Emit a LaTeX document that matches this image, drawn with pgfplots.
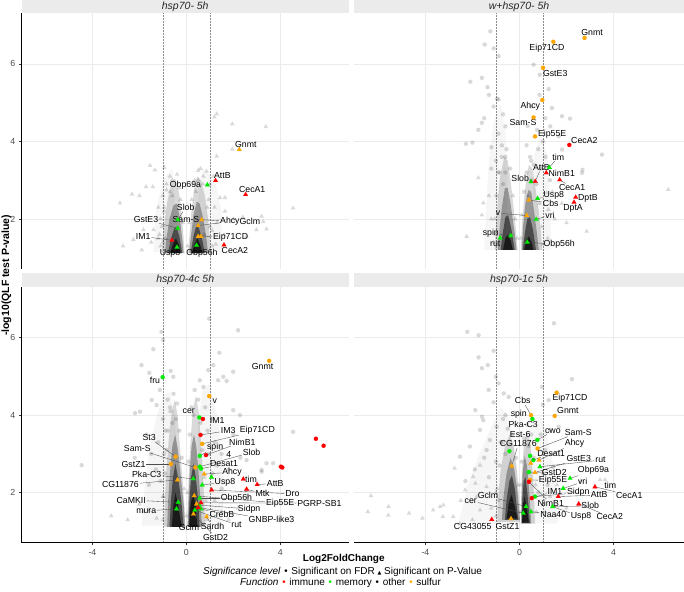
\documentclass[border=0pt]{standalone}
\usepackage{pgfplots}
\pgfplotsset{compat=1.18}
\usepackage{fontspec}
\setmainfont{Liberation Sans}
\newfontfamily\symf{DejaVu Sans}
\definecolor{cimm}{RGB}{255,0,0}
\definecolor{cmem}{RGB}{0,235,0}
\definecolor{csul}{RGB}{255,165,0}
\definecolor{stripc}{RGB}{235,235,235}
\tikzset{
  lab/.style={font=\fontsize{8.75}{9}\selectfont, inner sep=0.8pt, text=black},
  seg/.style={draw=black!70, line width=0.35pt, shorten >=1.2pt},
  axl/.style={draw=black, line width=0.7pt},
}
\pgfplotsset{
  panel/.style={scale only axis, height=255.5pt, ymin=0.71, ymax=7.30,
    xtick={-4,0,4}, ytick={2,4,6}, grid=major,
    major grid style={draw=black!8, line width=0.6pt},
    axis line style={draw=none},
    xtick pos=bottom, ytick pos=left,
    tick align=outside, major tick length=2.75pt,
    tick style={draw=black!80, line width=0.6pt},
    ticklabel style={font=\fontsize{8.8}{10}\selectfont, text=black!70},
    /pgf/number format/assume math mode=true,
    clip=false},
  notx/.style={xticklabels={}, xtick style={draw=none}},
  noty/.style={yticklabels={}, ytick style={draw=none}},
  cf/.style={only marks, mark=*, mark size=2.1pt, mark options={draw=#1, fill=#1, line width=0.1pt}, forget plot},
  ct/.style={only marks, mark=triangle*, mark size=2.7pt, mark options={draw=#1, fill=#1, line width=0.1pt}, forget plot},
  gf/.style={only marks, mark=*, mark size=2.2pt, mark options={draw=black, draw opacity=0, line width=0pt, fill=black, fill opacity=0.15}, forget plot},
  gt/.style={only marks, mark=triangle*, mark size=2.7pt, mark options={draw=black, draw opacity=0, line width=0pt, fill=black, fill opacity=0.15}, forget plot},
  lobe/.style={draw=none, fill=black, fill opacity=#1, forget plot, mark=none},
  vl/.style={draw=black!45, line width=0.5pt, densely dotted, forget plot, mark=none},
}
\newcommand{\lb}[5]{\node[lab] (L) at (axis cs:#1,#2) {#5}; \draw[seg] (L) -- (axis cs:#3,#4);}
\newcommand{\lbn}[3]{\node[lab] at (axis cs:#1,#2) {#3};}
\newcommand{\bul}[1]{{\color{#1}\symf\fontsize{9}{9}\selectfont •}}
\begin{document}
\begin{tikzpicture}
\useasboundingbox (0,0) rectangle (684pt,591pt);

% ================= Panel 1: hsp70- 5h =================
\begin{axis}[panel, notx, at={(21.5pt,322pt)}, anchor=south west, width=327.5pt, xmin=-7.02, xmax=6.92]
\addplot[vl] coordinates {(-1,0.71) (-1,7.30)};
\addplot[vl] coordinates {(1,0.71) (1,7.30)};
\addplot[ct=cimm] coordinates {(1.24,2.99) (2.52,2.63) (-0.62,1.45) (1.60,1.33)};
\addplot[ct=cmem] coordinates {(0.89,2.88) (-0.37,1.98) (-0.37,1.76) (-0.40,1.27) (0.43,1.32)};
\addplot[ct=csul] coordinates {(2.25,3.79) (0.65,1.98) (0.50,1.83) (0.50,1.55) (0.62,1.55)};
\addplot[lobe=0.035] coordinates {(-1.4,1.15) (-1.3,2.2) (-1.0,3.0) (-0.6,3.3) (-0.5,2.5) (-0.6,1.15)};
\addplot[lobe=0.035] coordinates {(0.6,1.15) (0.5,2.5) (0.7,3.3) (1.2,3.0) (1.5,2.2) (1.5,1.15)};
\addplot[gt] coordinates {(1.29,4.71) (1.19,4.63) (1.95,4.45) (3.38,4.38) (1.95,3.80) (1.29,3.62) (4.54,2.28) (-2.83,2.41) (-2.32,2.64) (-2.00,2.60) (-1.55,3.38) (-1.34,3.26) (-0.94,3.33) (-1.72,2.83) (-1.43,2.83) (3.20,2.07) (3.41,1.74) (3.27,1.93) (2.98,1.72) (2.55,1.55) (-2.26,1.47) (-1.83,1.72) (-1.40,1.72) (0.86,3.23) (1.15,3.10) (0.72,3.10) (1.00,2.90) (1.43,2.55) (1.64,2.55) (1.64,2.20) (2.00,2.00) (-1.20,2.30) (-1.10,2.00) (-1.50,1.40) (-1.20,1.50) (1.30,1.90) (1.60,1.60) (1.25,1.35) (-1.00,2.60) (-0.85,2.90) (0.60,3.30) (0.50,3.00) (-0.60,3.00) (-0.70,2.70) (1.20,2.30) (2.40,2.05) (-2.70,1.30) (-1.90,1.20) (-0.95,2.20) (0.95,2.50) (1.10,1.70) (-1.00,1.40) (0.30,2.90) (-0.30,2.80)};
\addplot[gt] coordinates {(-1.10,1.30) (-1.05,1.80) (-0.95,2.30) (-0.85,2.75) (-0.70,3.10) (-0.40,3.15) (-0.25,2.50) (-0.15,1.90) (-1.15,1.60) (-0.90,1.50) (-0.60,2.60) (0.05,1.30) (0.12,1.90) (0.22,2.50) (0.35,3.00) (0.50,3.25) (0.70,2.90) (0.88,2.30) (1.00,1.80) (1.10,1.30) (0.75,1.60) (0.40,2.70)};
\addplot[lobe=0.15] coordinates {(-1.05,1.12) (-1.0,1.5) (-0.92,2.0) (-0.8,2.5) (-0.62,2.95) (-0.48,3.05) (-0.32,2.7) (-0.2,2.1) (-0.12,1.5) (-0.08,1.12)};
\addplot[lobe=0.30] coordinates {(-0.92,1.12) (-0.85,1.5) (-0.72,2.0) (-0.55,2.35) (-0.42,2.4) (-0.3,2.1) (-0.18,1.5) (-0.12,1.12)};
\addplot[lobe=0.50] coordinates {(-0.78,1.12) (-0.68,1.45) (-0.52,1.75) (-0.42,1.8) (-0.3,1.55) (-0.18,1.12)};
\addplot[lobe=0.65] coordinates {(-0.68,1.12) (-0.58,1.35) (-0.45,1.5) (-0.33,1.35) (-0.24,1.12)};
\addplot[lobe=0.15] coordinates {(0.08,1.12) (0.12,1.5) (0.2,2.1) (0.32,2.75) (0.46,3.1) (0.62,3.0) (0.8,2.55) (0.92,2.0) (1.0,1.5) (1.05,1.12)};
\addplot[lobe=0.30] coordinates {(0.12,1.12) (0.18,1.5) (0.3,2.1) (0.44,2.45) (0.56,2.4) (0.72,2.0) (0.85,1.5) (0.92,1.12)};
\addplot[lobe=0.50] coordinates {(0.18,1.12) (0.3,1.55) (0.43,1.85) (0.54,1.75) (0.68,1.45) (0.78,1.12)};
\addplot[lobe=0.65] coordinates {(0.24,1.12) (0.34,1.35) (0.46,1.5) (0.58,1.35) (0.68,1.12)};
\draw[axl] (rel axis cs:0,0) -- (rel axis cs:0,1);
\lbn{2.53}{3.93}{Gnmt}
\lbn{1.53}{3.12}{AttB}
\lbn{-0.04}{2.87}{Obp69a}
\lbn{2.80}{2.75}{CecA1}
\lb{-0.03}{2.30}{-0.37}{1.98}{Slob}
\lb{-1.72}{1.98}{-0.37}{1.76}{GstE3}
\lbn{-0.02}{1.98}{Sam-S}
\lb{1.85}{1.94}{0.65}{1.98}{Ahcy}
\lbn{2.70}{1.94}{Gclm}
\draw[seg] (axis cs:1.42,1.90) -- (axis cs:0.50,1.83);
\lb{1.88}{1.53}{0.62}{1.55}{Eip71CD}
\lb{-1.84}{1.55}{-0.62}{1.45}{IM1}
\lbn{-0.70}{1.12}{Usp8}
\lbn{0.66}{1.12}{Obp56h}
\lbn{2.06}{1.18}{CecA2}
\end{axis}

% ================= Panel 2: w+hsp70- 5h =================
\begin{axis}[panel, notx, noty, at={(354pt,322pt)}, anchor=south west, width=330pt, xmin=-7.04, xmax=7.00]
\addplot[vl] coordinates {(-1,0.71) (-1,7.30)};
\addplot[vl] coordinates {(1,0.71) (1,7.30)};
\addplot[cf=csul] coordinates {(2.77,6.67) (1.44,6.57) (1.00,5.90) (0.97,5.07) (0.60,4.62) (0.66,4.13)};
\addplot[cf=cimm] coordinates {(2.12,3.91)};
\addplot[ct=cmem] coordinates {(1.27,3.33) (0.49,2.96) (0.77,2.53) (0.71,1.99) (-0.37,1.57) (-0.82,1.51) (0.33,1.40)};
\addplot[ct=cimm] coordinates {(0.67,2.97) (1.14,3.19) (1.71,3.01) (2.39,2.56) (2.32,2.43)};
\addplot[ct=csul] coordinates {(0.40,2.49) (0.31,2.09)};
\addplot[lobe=0.035] coordinates {(-1.5,1.2) (-1.4,2.5) (-1.3,3.5) (-1.1,4.5) (-0.8,5.0) (-0.6,4.2) (-0.5,3.0) (-0.6,1.2)};
\addplot[lobe=0.035] coordinates {(0.6,1.2) (0.55,2.5) (0.6,3.6) (0.9,4.2) (1.2,3.6) (1.3,2.5) (1.35,1.2)};
\addplot[gf] coordinates {(-1.24,6.84) (-1.48,6.50) (-1.10,6.40) (-0.89,6.20) (-1.60,5.64) (-2.09,5.54) (-1.36,5.40) (-1.30,5.20) (-0.95,5.10) (-0.89,5.08) (-1.10,4.90) (-0.70,4.70) (-1.50,4.60) (-1.60,4.48) (-0.60,4.39) (-1.75,4.30) (-2.28,3.94) (-2.00,3.97) (-1.20,3.85) (-0.90,4.20) (0.60,5.98) (0.86,5.72) (1.24,5.35) (1.38,4.86) (1.81,4.65) (2.15,4.59) (1.31,4.39) (1.67,4.13) (1.81,3.79) (3.51,3.66) (2.66,3.19) (2.68,3.27) (-0.75,3.90) (-0.60,3.60) (0.35,4.40) (0.50,4.90) (0.30,3.90) (0.80,3.80) (-1.00,3.50) (1.10,3.60) (0.75,4.30) (1.00,4.00) (0.50,3.50) (0.90,3.30) (-0.85,3.20) (-1.20,3.30) (1.30,3.00) (0.85,5.20) (1.10,4.60)};
\addplot[gf] coordinates {(-0.90,3.20) (-0.75,3.60) (-0.55,3.80) (-0.40,3.30) (-0.70,2.90) (-0.60,3.20) (0.20,2.70) (0.30,3.20) (0.45,3.60) (0.60,3.40) (0.72,2.90) (0.50,3.00) (-0.98,2.60)};
\addplot[gt] coordinates {(-1.75,3.06) (-1.54,2.41) (-2.25,1.55) (2.86,1.68) (6.33,2.76) (1.16,2.67) (1.23,2.24) (-1.20,2.00) (-1.00,1.60) (1.50,2.00) (1.40,2.70) (-1.60,2.10) (1.20,1.50) (-1.30,2.60) (1.80,2.40) (2.00,1.90)};
\addplot[gt] coordinates {(-1.10,1.40) (-1.05,2.00) (-0.28,2.60) (-0.18,2.00) (-0.10,1.50) (0.05,1.50) (0.10,2.10) (0.85,2.40) (0.95,1.80) (1.00,1.35) (0.35,2.60)};
\addplot[lobe=0.15] coordinates {(-1.05,1.2) (-1.0,1.8) (-0.92,2.5) (-0.82,3.1) (-0.65,3.6) (-0.5,3.5) (-0.38,3.0) (-0.25,2.3) (-0.15,1.7) (-0.08,1.2)};
\addplot[lobe=0.30] coordinates {(-0.92,1.2) (-0.85,1.7) (-0.75,2.3) (-0.62,2.8) (-0.5,2.8) (-0.38,2.4) (-0.22,1.7) (-0.12,1.2)};
\addplot[lobe=0.50] coordinates {(-0.8,1.2) (-0.72,1.6) (-0.6,2.05) (-0.48,2.1) (-0.35,1.75) (-0.2,1.2)};
\addplot[lobe=0.65] coordinates {(-0.7,1.2) (-0.6,1.5) (-0.5,1.6) (-0.38,1.45) (-0.28,1.2)};
\addplot[lobe=0.15] coordinates {(0.06,1.2) (0.1,1.8) (0.18,2.4) (0.28,3.0) (0.4,3.4) (0.55,3.3) (0.68,2.8) (0.82,2.2) (0.92,1.6) (0.97,1.2)};
\addplot[lobe=0.30] coordinates {(0.1,1.2) (0.15,1.8) (0.25,2.4) (0.38,2.75) (0.5,2.7) (0.62,2.2) (0.75,1.6) (0.82,1.2)};
\addplot[lobe=0.50] coordinates {(0.14,1.2) (0.22,1.6) (0.33,2.0) (0.45,2.05) (0.58,1.7) (0.7,1.2)};
\addplot[lobe=0.65] coordinates {(0.2,1.2) (0.28,1.45) (0.4,1.55) (0.52,1.4) (0.6,1.2)};
\lbn{3.09}{6.80}{Gnmt}
\lbn{1.17}{6.41}{Eip71CD}
\lbn{1.52}{5.75}{GstE3}
\lbn{0.46}{4.92}{Ahcy}
\lbn{0.15}{4.48}{Sam-S}
\lbn{1.39}{4.19}{Eip55E}
\lbn{2.76}{4.03}{CecA2}
\lb{1.65}{3.60}{1.27}{3.33}{tim}
\lb{0.93}{3.33}{0.67}{2.97}{AttB}
\lbn{1.80}{3.19}{NimB1}
\lbn{0.03}{3.04}{Slob}
\lb{2.24}{2.81}{1.71}{3.01}{CecA1}
\lb{1.46}{2.60}{0.77}{2.53}{Usp8}
\lb{1.33}{2.40}{0.40}{2.49}{Cbs}
\lbn{2.91}{2.54}{DptB}
\lbn{2.28}{2.27}{DptA}
\lb{-0.91}{2.15}{0.31}{2.09}{v}
\lb{1.30}{2.10}{0.71}{1.99}{vri}
\lb{-1.22}{1.64}{-0.37}{1.57}{spin}
\lbn{-1.03}{1.36}{rut}
\lb{1.69}{1.34}{0.33}{1.40}{Obp56h}
\end{axis}

% ================= Panel 3: hsp70-4c 5h =================
\begin{axis}[panel, at={(21.5pt,48.3pt)}, anchor=south west, width=327.5pt, xmin=-7.02, xmax=6.92]
\addplot[vl] coordinates {(-1,0.71) (-1,7.30)};
\addplot[vl] coordinates {(1,0.71) (1,7.30)};
\addplot[cf=csul] coordinates {(3.52,5.40) (0.97,4.49) (-0.46,2.93) (0.38,2.65) (-0.66,2.74) (0.67,3.26)};
\addplot[cf=cmem] coordinates {(-1.01,4.98) (0.55,3.94) (0.57,2.95) (0.57,2.67) (0.62,2.62)};
\addplot[cf=cimm] coordinates {(0.70,3.90) (0.60,3.49) (0.83,2.97) (4.02,2.67) (4.08,2.65) (5.51,3.39) (5.84,3.21)};
\addplot[ct=csul] coordinates {(0.76,2.48) (-0.38,2.33) (0.33,1.92) (0.86,1.38) (0.43,1.71) (0.30,1.45)};
\addplot[ct=cmem] coordinates {(0.29,2.36) (1.07,2.40) (0.67,2.20) (0.57,1.86) (0.55,1.68) (-0.35,1.75) (0.62,1.58) (0.36,1.55) (-0.42,1.58)};
\addplot[ct=cimm] coordinates {(2.42,2.35) (3.01,2.21) (2.56,2.09) (1.07,2.07) (0.62,1.74) (0.50,1.62)};
\addplot[lobe=0.04] coordinates {(-1.9,1.15) (-1.8,2.0) (-1.6,3.0) (-1.3,3.9) (-1.0,4.5) (-0.7,4.6) (-0.5,4.0) (-0.4,3.0) (-0.5,2.0) (-0.6,1.15)};
\addplot[lobe=0.04] coordinates {(0.5,1.15) (0.5,2.5) (0.5,3.8) (0.7,4.7) (1.0,4.8) (1.3,4.0) (1.5,3.0) (1.6,2.0) (1.5,1.15)};
\addplot[gf] coordinates {(0.97,6.49) (2.20,6.19) (-1.06,6.15) (-0.99,5.94) (-1.41,5.70) (-1.91,5.29) (-0.67,5.14) (-0.56,4.99) (1.40,5.61) (1.14,5.29) (0.93,5.16) (0.57,4.90) (0.72,4.73) (1.35,4.90) (1.71,4.88) (1.99,5.12) (4.54,3.57) (-4.46,2.71) (-2.19,4.05) (-1.98,4.09) (3.20,2.59) (3.41,2.76) (-1.13,4.65) (-1.48,4.39) (-0.80,4.40) (-0.90,3.60) (-1.20,3.30) (-1.50,3.00) (0.90,3.60) (1.20,3.30) (1.50,3.00) (1.30,2.70) (-1.30,2.60) (2.00,3.50) (-1.70,3.50) (2.30,2.90) (1.80,2.60) (-2.20,2.90) (3.20,2.54) (3.69,2.76) (-1.27,4.26) (-1.58,5.09) (1.99,4.13) (2.28,4.00) (1.57,4.99) (2.56,2.84) (-0.70,4.20) (0.80,4.20) (-1.00,3.90) (1.10,3.90) (-0.95,3.00) (0.95,3.00) (-1.10,2.30) (1.10,2.50) (-1.60,2.20) (1.50,2.10)};
\addplot[gf] coordinates {(-0.92,2.50) (-0.85,3.10) (-0.78,3.60) (-0.68,4.10) (-0.55,4.55) (-0.40,4.30) (-0.30,3.60) (-0.20,2.90) (-0.60,3.80) (-0.45,3.90) (0.08,2.80) (0.14,3.50) (0.22,4.20) (0.35,4.65) (0.50,4.40) (0.60,3.80) (0.68,3.10) (0.30,4.00)};
\addplot[gt] coordinates {(-1.84,1.51) (-1.27,1.34) (-1.60,1.55) (-2.50,1.30) (1.80,1.30) (2.20,1.60) (1.50,1.50) (-3.20,1.40) (-2.00,1.70) (1.20,1.80) (2.60,1.90) (-1.00,1.90)};
\addplot[gt] coordinates {(-1.00,1.30) (-0.98,1.90) (-0.10,2.10) (0.00,1.40) (0.04,2.00) (0.76,2.40) (0.82,1.80) (0.86,1.30)};
\addplot[lobe=0.15] coordinates {(-0.95,1.12) (-0.92,1.8) (-0.85,2.6) (-0.75,3.4) (-0.62,4.1) (-0.5,4.4) (-0.38,4.0) (-0.28,3.2) (-0.16,2.3) (-0.08,1.6) (-0.04,1.12)};
\addplot[lobe=0.30] coordinates {(-0.82,1.12) (-0.78,1.8) (-0.7,2.5) (-0.6,3.2) (-0.48,3.5) (-0.36,3.1) (-0.22,2.3) (-0.1,1.6) (-0.07,1.12)};
\addplot[lobe=0.50] coordinates {(-0.72,1.12) (-0.66,1.8) (-0.57,2.4) (-0.47,2.75) (-0.36,2.4) (-0.22,1.8) (-0.12,1.12)};
\addplot[lobe=0.65] coordinates {(-0.62,1.12) (-0.55,1.7) (-0.46,2.0) (-0.36,1.7) (-0.2,1.12)};
\addplot[lobe=0.15] coordinates {(0.03,1.12) (0.05,1.7) (0.1,2.5) (0.17,3.3) (0.27,4.1) (0.4,4.5) (0.52,4.1) (0.62,3.3) (0.7,2.5) (0.76,1.7) (0.8,1.12)};
\addplot[lobe=0.30] coordinates {(0.06,1.12) (0.09,1.8) (0.15,2.6) (0.22,3.2) (0.32,3.5) (0.42,3.2) (0.52,2.5) (0.6,1.8) (0.66,1.12)};
\addplot[lobe=0.50] coordinates {(0.09,1.12) (0.13,1.8) (0.2,2.4) (0.3,2.75) (0.4,2.4) (0.5,1.8) (0.56,1.12)};
\addplot[lobe=0.65] coordinates {(0.12,1.12) (0.18,1.7) (0.28,2.0) (0.38,1.7) (0.47,1.12)};
\draw[axl] (rel axis cs:0,1) -- (rel axis cs:0,0) -- (rel axis cs:1,0);
\lbn{3.24}{5.25}{Gnmt}
\lbn{-1.34}{4.90}{fru}
\lbn{1.21}{4.37}{v}
\lbn{0.10}{4.09}{cer}
\lbn{1.31}{3.87}{IM1}
\lb{1.78}{3.60}{0.60}{3.49}{IM3}
\lb{3.02}{3.60}{0.67}{3.26}{Eip71CD}
\lb{2.38}{3.31}{0.83}{2.97}{NimB1}
\lb{1.22}{3.17}{0.57}{2.95}{spin}
\lbn{1.80}{2.99}{4}
\lb{2.77}{3.04}{0.57}{2.67}{Slob}
\lb{1.60}{2.74}{0.62}{2.62}{Desat1}
\lb{1.94}{2.53}{0.76}{2.48}{Ahcy}
\lb{1.64}{2.27}{0.67}{2.20}{Usp8}
\lbn{2.75}{2.35}{tim}
\lb{3.78}{2.24}{3.01}{2.21}{AttB}
\lb{3.24}{1.98}{2.56}{2.09}{Mtk}
\lb{4.51}{1.97}{1.07}{2.07}{Dro}
\lb{2.13}{1.86}{0.57}{1.86}{Obp56h}
\lb{3.99}{1.73}{0.33}{1.92}{Eip55E}
\lb{5.66}{1.73}{0.62}{1.74}{PGRP-SB1}
\lb{2.67}{1.58}{0.55}{1.68}{Sidpn}
\lb{1.51}{1.45}{0.62}{1.58}{CrebB}
\lb{3.62}{1.30}{0.50}{1.62}{GNBP-like3}
\lb{2.13}{1.17}{0.36}{1.55}{rut}
\lbn{0.11}{1.11}{Gclm}
\lb{1.11}{1.14}{0.86}{1.38}{Sardh}
\lb{1.24}{0.85}{0.30}{1.45}{GstD2}
\lb{-1.59}{3.42}{-0.46}{2.93}{St3}
\lb{-2.09}{3.13}{0.38}{2.65}{Sam-S}
\lb{-2.25}{2.74}{-0.66}{2.74}{GstZ1}
\lb{-1.69}{2.47}{0.29}{2.36}{Pka-C3}
\lb{-2.81}{2.20}{-0.38}{2.33}{CG11876}
\lb{-2.35}{1.81}{-0.35}{1.75}{CaMKII}
\lb{-1.71}{1.53}{-0.42}{1.58}{mura}
\end{axis}

% ================= Panel 4: hsp70-1c 5h =================
\begin{axis}[panel, noty, at={(354pt,48.3pt)}, anchor=south west, width=330pt, xmin=-7.04, xmax=7.00]
\addplot[vl] coordinates {(-1,0.71) (-1,7.30)};
\addplot[vl] coordinates {(1,0.71) (1,7.30)};
\addplot[cf=csul] coordinates {(1.58,4.58) (1.50,3.98) (0.49,4.00) (0.77,3.14) (0.45,2.33)};
\addplot[cf=cmem] coordinates {(0.55,3.90) (0.76,3.36) (-0.43,3.07) (0.45,2.95) (0.59,2.84) (0.40,2.53) (0.66,1.90)};
\addplot[cf=cimm] coordinates {(0.40,2.28) (0.52,1.86)};
\addplot[ct=csul] coordinates {(0.83,2.84) (0.48,2.76) (0.66,2.52) (-0.33,2.69) (-0.36,1.33)};
\addplot[ct=cmem] coordinates {(0.87,2.67) (2.15,2.37) (1.86,2.11) (1.41,1.64) (0.49,1.51) (0.28,1.64) (0.16,1.47)};
\addplot[ct=cimm] coordinates {(3.21,2.15) (1.65,1.90) (2.52,1.71) (-1.18,1.31)};
\addplot[lobe=0.035] coordinates {(-2.6,1.2) (-2.2,2.2) (-1.7,3.0) (-1.2,3.7) (-0.8,4.2) (-0.5,4.0) (-0.2,3.2) (0.0,2.0) (0.02,1.2)};
\addplot[lobe=0.035] coordinates {(0.05,1.2) (0.08,2.0) (0.2,3.0) (0.5,3.8) (0.9,4.0) (1.2,3.4) (1.5,2.5) (1.7,1.5) (1.6,1.2)};
\addplot[gf] coordinates {(1.47,6.37) (-2.22,6.15) (-1.74,6.06) (-1.10,5.66) (-1.74,5.49) (-1.35,5.29) (-1.60,5.21) (2.23,4.93) (-1.00,4.99) (-0.67,4.56) (-1.88,4.13) (-1.60,3.96) (-1.10,4.33) (-1.31,4.65) (-0.89,4.82) (-0.46,4.47) (0.96,4.73) (1.24,4.39) (0.99,4.27) (1.67,3.70) (-1.68,3.62) (-1.26,3.36) (-2.11,3.19) (-2.53,2.93) (-1.54,3.87) (-0.97,3.70) (1.30,3.62) (1.09,3.10) (1.44,2.67) (-0.80,3.30) (-1.50,2.90) (-1.90,2.60) (-1.00,2.80) (-1.30,2.40) (1.00,2.50) (1.20,2.20) (0.90,3.50) (-0.70,3.90) (-2.30,2.30) (0.80,2.00) (-0.60,4.00) (-1.40,3.10)};
\addplot[gf] coordinates {(-0.85,2.70) (-0.70,3.30) (-0.50,3.65) (-0.30,3.50) (-0.15,2.90) (-0.60,3.00) (0.10,2.80) (0.20,3.40) (0.32,3.75) (0.50,3.50) (0.60,2.90) (0.40,3.20)};
\addplot[gt] coordinates {(-6.32,1.92) (-5.57,1.64) (-6.45,1.51) (-5.58,1.42) (-4.70,1.47) (-4.13,1.34) (-3.26,1.38) (-2.53,1.20) (-2.76,2.63) (-2.31,2.07) (-1.88,2.24) (-1.81,1.90) (-3.38,1.64) (-3.67,1.55) (-3.24,1.68) (-2.82,1.38) (-1.68,2.71) (-1.97,2.41) (-1.40,2.15) (-1.68,1.55) (3.43,2.33) (3.64,2.33) (-2.50,1.80) (-2.00,1.30) (-1.20,1.60) (1.30,1.90) (1.60,2.20) (2.60,2.30) (2.00,1.60) (-1.00,2.00) (1.10,1.50)};
\addplot[gt] coordinates {(-1.00,1.40) (-0.95,2.10) (-0.05,2.20) (-0.90,1.80) (0.04,1.50) (0.06,2.20) (0.68,2.20) (0.72,1.50)};
\addplot[lobe=0.15] coordinates {(-0.95,1.25) (-0.9,1.9) (-0.8,2.6) (-0.62,3.2) (-0.42,3.5) (-0.25,3.2) (-0.1,2.5) (-0.02,1.8) (0.02,1.25)};
\addplot[lobe=0.30] coordinates {(-0.75,1.3) (-0.68,1.9) (-0.55,2.5) (-0.38,2.9) (-0.22,2.6) (-0.08,2.0) (0.02,1.3)};
\addplot[lobe=0.50] coordinates {(-0.62,1.3) (-0.55,1.8) (-0.43,2.3) (-0.32,2.45) (-0.2,2.1) (-0.05,1.3)};
\addplot[lobe=0.65] coordinates {(-0.55,1.33) (-0.45,1.75) (-0.34,1.95) (-0.22,1.7) (-0.08,1.33)};
\addplot[lobe=0.15] coordinates {(0.06,1.2) (0.07,1.8) (0.1,2.5) (0.18,3.2) (0.3,3.6) (0.45,3.3) (0.55,2.6) (0.62,1.9) (0.66,1.2)};
\addplot[lobe=0.30] coordinates {(0.08,1.2) (0.09,1.8) (0.13,2.5) (0.22,2.95) (0.32,2.7) (0.42,2.0) (0.5,1.2)};
\addplot[lobe=0.50] coordinates {(0.1,1.22) (0.12,1.8) (0.18,2.3) (0.26,2.4) (0.35,1.9) (0.44,1.22)};
\addplot[lobe=0.65] coordinates {(0.11,1.23) (0.15,1.7) (0.22,1.9) (0.3,1.65) (0.4,1.23)};
\draw[axl] (rel axis cs:0,0) -- (rel axis cs:1,0);
\lbn{2.15}{4.43}{Eip71CD}
\lbn{2.06}{4.11}{Gnmt}
\lb{0.14}{4.37}{0.49}{4.00}{Cbs}
\lbn{-0.03}{4.02}{spin}
\lbn{0.16}{3.76}{Pka-C3}
\lb{1.42}{3.59}{0.76}{3.36}{cwo}
\lb{2.50}{3.55}{0.77}{3.14}{Sam-S}
\lbn{0.03}{3.49}{Est-6}
\lb{2.34}{3.27}{0.83}{2.84}{Ahcy}
\lb{-0.05}{3.26}{-0.33}{2.69}{CG11876}
\lb{1.35}{3.02}{0.59}{2.84}{Desat1}
\lb{2.52}{2.87}{0.66}{2.52}{GstE3}
\lb{3.45}{2.84}{0.87}{2.67}{rut}
\lb{3.15}{2.57}{2.15}{2.37}{Obp69a}
\lb{1.48}{2.52}{0.40}{2.53}{GstD2}
\lb{1.43}{2.31}{0.45}{2.33}{Eip55E}
\lb{2.69}{2.28}{1.86}{2.11}{vri}
\lbn{3.86}{2.20}{tim}
\lb{1.51}{2.04}{0.52}{1.86}{IM1}
\lb{2.50}{2.00}{0.66}{1.90}{Sidpn}
\lb{3.39}{1.94}{1.65}{1.90}{AttB}
\lb{4.67}{1.94}{3.21}{2.15}{CecA1}
\lb{1.33}{1.73}{0.40}{2.28}{NimB1}
\lb{3.01}{1.66}{1.41}{1.64}{Slob}
\lb{1.44}{1.45}{0.49}{1.51}{Naa40}
\lb{2.62}{1.38}{1.41}{1.64}{Usp8}
\lb{3.84}{1.38}{2.52}{1.71}{CecA2}
\lb{-1.34}{1.92}{0.28}{1.64}{Gclm}
\lb{-2.07}{1.79}{0.16}{1.47}{cer}
\lbn{-1.99}{1.12}{CG43055}
\lbn{-0.51}{1.12}{GstZ1}
\end{axis}

% ================= strips, titles, legend =================
\fill[stripc] (21.5pt,577.5pt) rectangle (349pt,591pt);
\fill[stripc] (354pt,577.5pt) rectangle (684pt,591pt);
\fill[stripc] (21.5pt,304pt) rectangle (349pt,317.5pt);
\fill[stripc] (354pt,304pt) rectangle (684pt,317.5pt);
\tikzset{strip/.style={font=\fontsize{10.5}{12}\selectfont\itshape, text=black!85, inner sep=0pt}}
\node[strip] at (185.25pt,584.25pt) {hsp70- 5h};
\node[strip] at (519pt,584.25pt) {w+hsp70- 5h};
\node[strip] at (185.25pt,310.75pt) {hsp70-4c 5h};
\node[strip] at (519pt,310.75pt) {hsp70-1c 5h};
\node[rotate=90, font=\bfseries\fontsize{10.5}{12}\selectfont, inner sep=0pt] at (6.5pt,315.5pt) {-log10(QLF test P-value)};
\node[font=\bfseries\fontsize{10}{12}\selectfont, inner sep=0pt] at (343.8pt,32pt) {Log2FoldChange};
\node[font=\fontsize{10}{12}\selectfont, inner sep=0pt] at (342.5pt,18.7pt) {\textit{Significance level} \bul{black} Significant on FDR {\symf\fontsize{5}{5}\selectfont ▲} Significant on P-Value};
\node[font=\fontsize{10}{12}\selectfont, inner sep=0pt] at (340.5pt,7.7pt) {\textit{Function} \bul{cimm} immune \bul{cmem} memory \bul{black} other \bul{csul} sulfur};
\end{tikzpicture}
\end{document}
